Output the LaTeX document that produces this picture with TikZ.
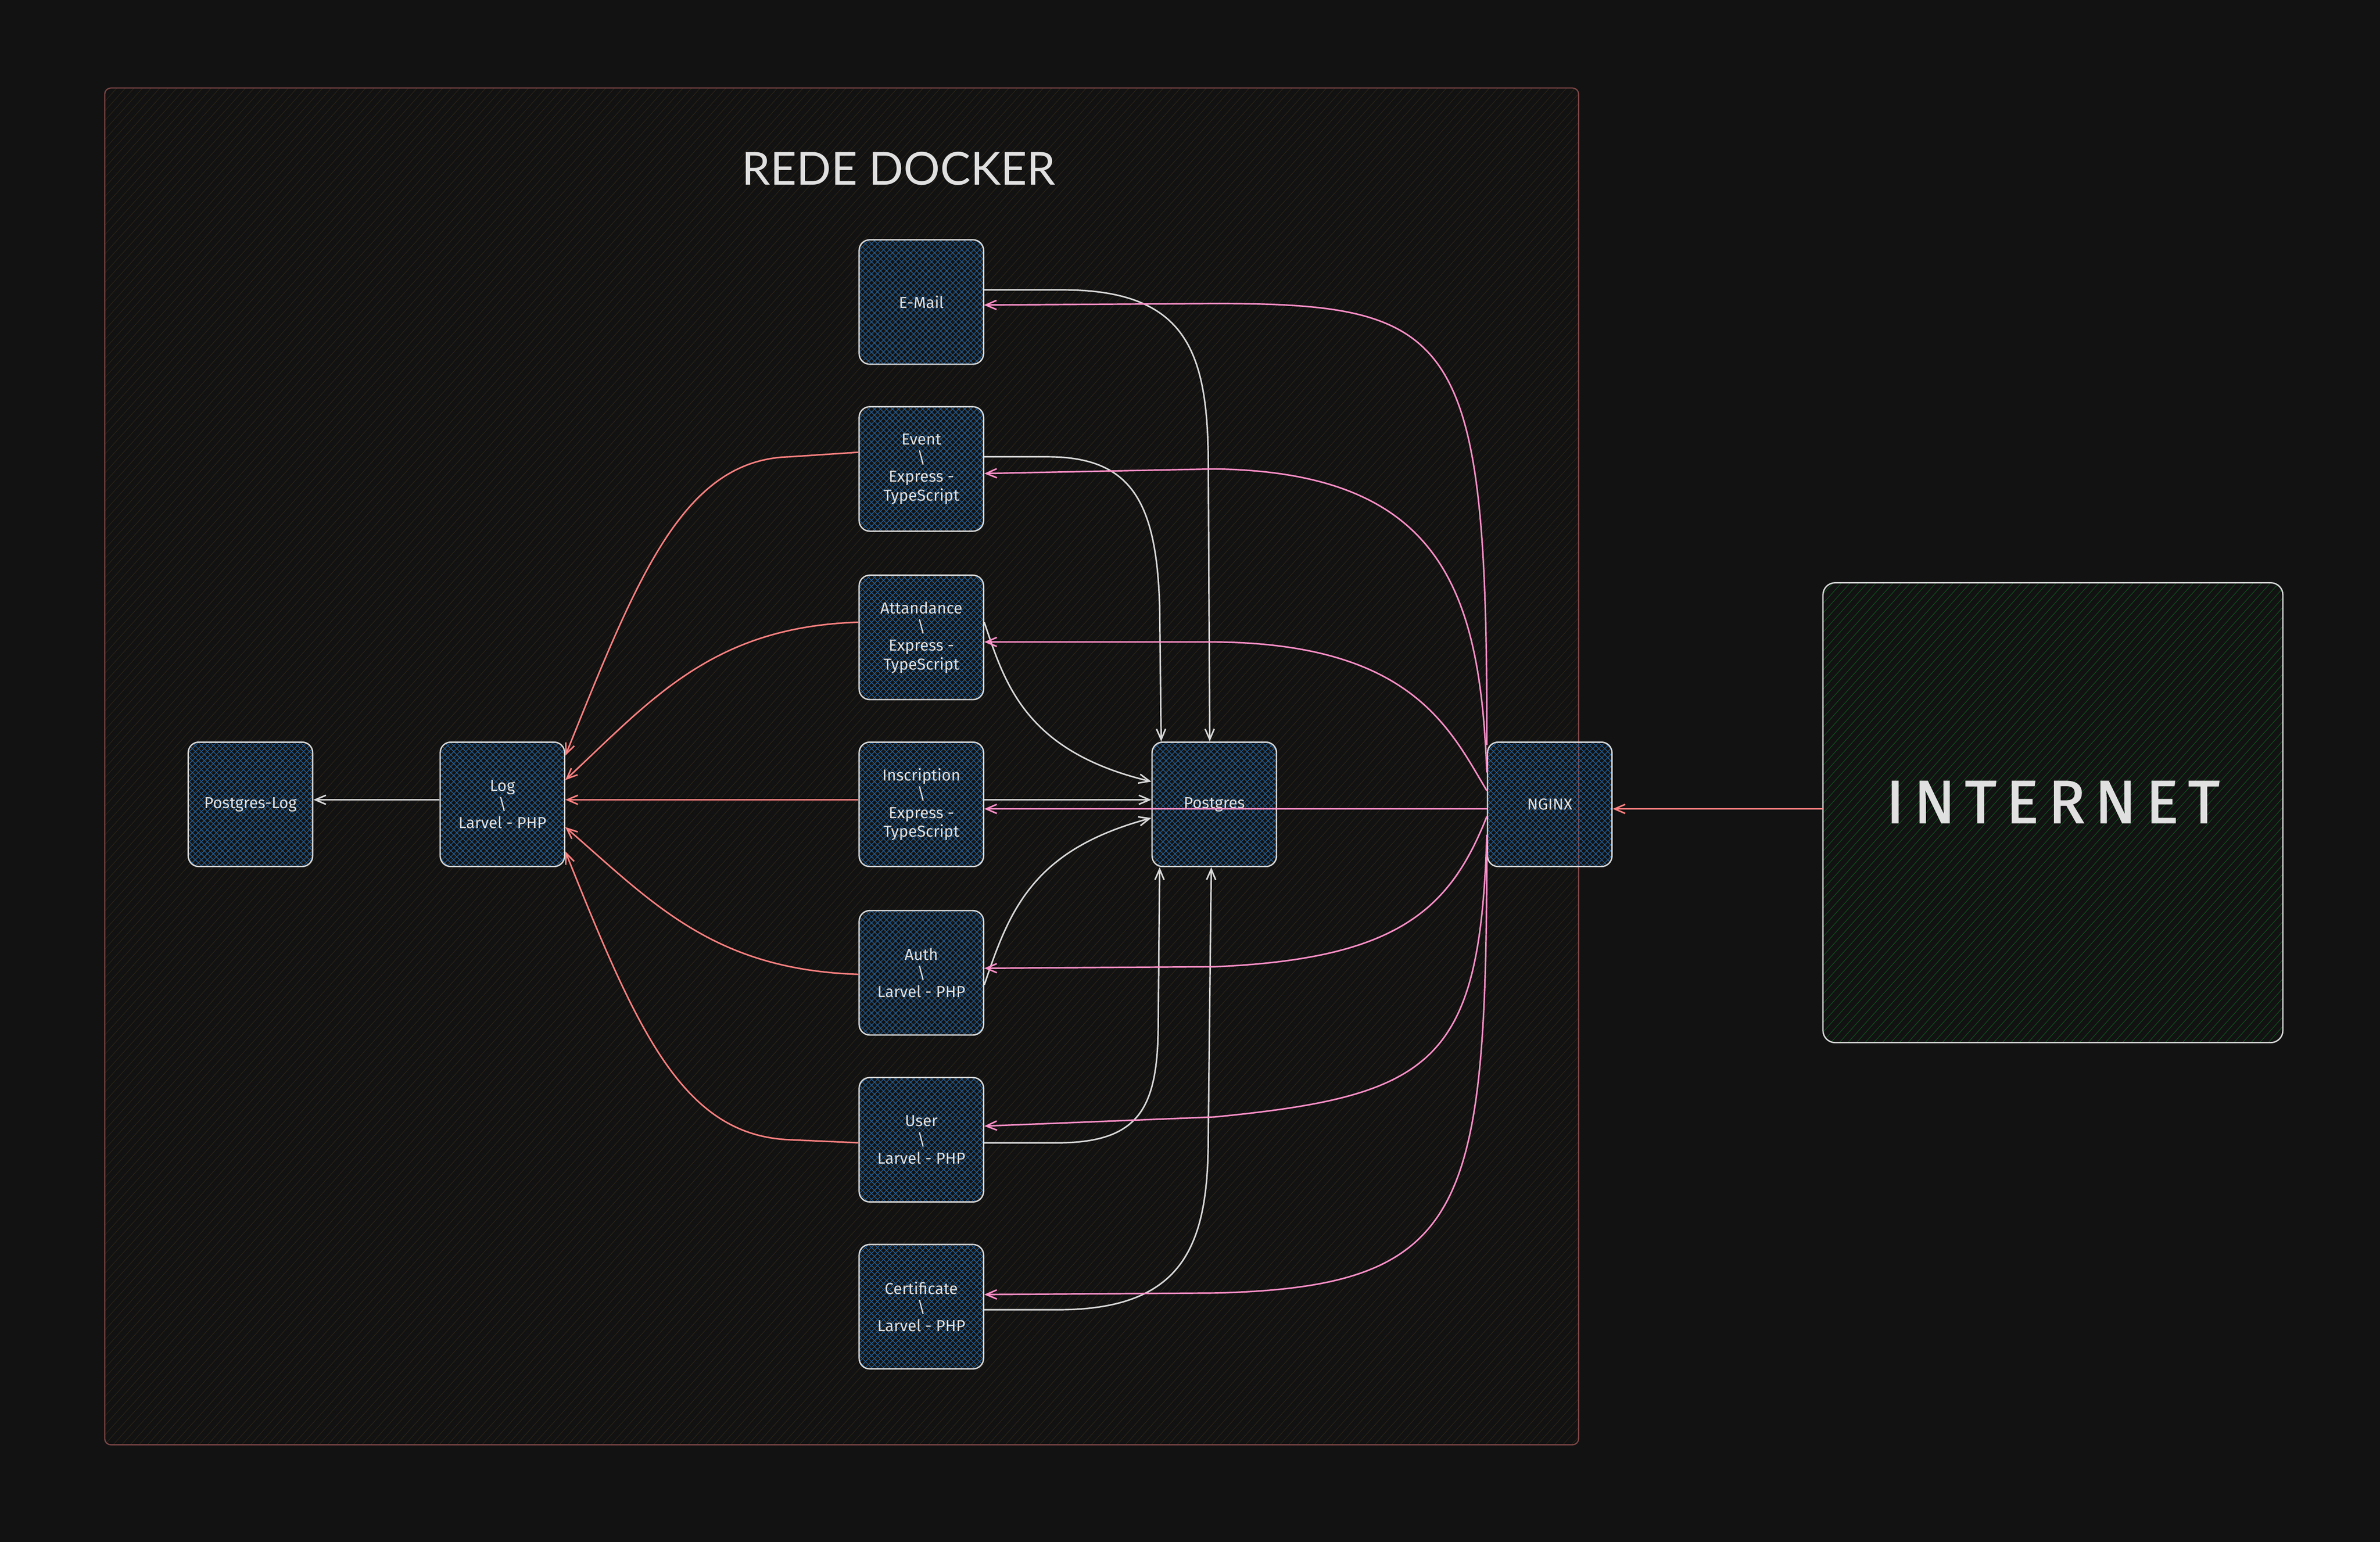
\documentclass[tikz,border=0pt]{standalone}
\usepackage{fontspec}
\setmainfont{Fira Sans}
\newfontfamily\titlefont{Lato}
\newfontfamily\netfont[LetterSpace=16, FakeBold=1.6]{Fira Sans}
\usetikzlibrary{arrows.meta, calc, patterns.meta}
\definecolor{bgdark}{HTML}{121212}
\definecolor{linegray}{HTML}{D8D8D8}
\definecolor{textgray}{HTML}{E0E0E0}
\definecolor{proxypink}{HTML}{FF8FC8}
\definecolor{logred}{HTML}{FF8080}
\definecolor{framered}{HTML}{7C4545}
\definecolor{hatchblue}{HTML}{22609A}
\definecolor{hatchgreen}{HTML}{0F4A1C}
\definecolor{hatchbrown}{HTML}{2A2317}
\tikzset{
    svc/.style={draw=linegray, line width=0.9pt, rounded corners=7pt,
        minimum width=82pt, minimum height=82pt, inner sep=0pt, align=center,
        text=textgray, font=\fontsize{10.5}{12.3}\selectfont,
        preaction={pattern={Lines[angle=45,distance=2.8pt,line width=0.45pt]}, pattern color=hatchblue},
        pattern={Lines[angle=-45,distance=2.8pt,line width=0.45pt]}, pattern color=hatchblue},
    netbox/.style={draw=linegray, line width=0.9pt, rounded corners=8pt,
        minimum width=303pt, minimum height=303pt, inner sep=0pt, text depth=14pt,
        text=textgray, font=\netfont\fontsize{40}{48}\selectfont,
        pattern={Lines[angle=48,distance=4.2pt,line width=0.45pt]}, pattern color=hatchgreen},
    dockernet/.style={draw=framered, line width=0.8pt, rounded corners=4pt,
        pattern={Lines[angle=48,distance=4.2pt,line width=0.4pt]}, pattern color=hatchbrown},
    grayarrow/.style={-{Straight Barb[length=7pt,width=6pt]}, draw=linegray, line width=1pt},
    pinkarrow/.style={-{Straight Barb[length=7pt,width=6pt]}, draw=proxypink, line width=1pt},
    redarrow/.style={-{Straight Barb[length=7pt,width=6pt]}, draw=logred, line width=1pt}
}
\begin{document}
\begin{tikzpicture}[x=1pt, y=-1pt]
    % Canvas
    \fill[bgdark] (0,0) rectangle (1568,1016);
    \useasboundingbox (0,0) rectangle (1568,1016);
    % Docker network
    \draw[dockernet] (69,58) rectangle (1040,952);
    \node[text=textgray, font=\titlefont\fontsize{30}{36}\selectfont] (title) at (592,111) {REDE DOCKER};
    % Services
    \node[svc] (email) at (607,199) {E-Mail};
    \node[svc] (event) at (607,309) {Event\\\textbackslash\\Express -\\TypeScript};
    \node[svc] (attend) at (607,420) {Attandance\\\textbackslash\\Express -\\TypeScript};
    \node[svc] (inscr) at (607,530) {Inscription\\\textbackslash\\Express -\\TypeScript};
    \node[svc] (auth) at (607,641) {Auth\\\textbackslash\\Larvel - PHP};
    \node[svc] (user) at (607,751) {User\\\textbackslash\\Larvel - PHP};
    \node[svc] (cert) at (607,861) {Certificate\\\textbackslash\\Larvel - PHP};
    % Databases, log and proxy
    \node[svc] (postgres) at (800,530) {Postgres};
    \node[svc] (log) at (331,530) {Log\\\textbackslash\\Larvel - PHP};
    \node[svc] (pglog) at (165,530) {Postgres-Log};
    \node[svc] (nginx) at (1021,530) {NGINX};
    % Outside
    \node[netbox] (internet) at (1352.5,535.5) {INTERNET};
    % Services -> Postgres
    \draw[grayarrow] ($(email.east)+(0,-8)$) -- (700,191) .. controls (780,191) and (795,230) .. (796,300) -- ($(postgres.north)+(-3,0)$);
    \draw[grayarrow] ($(event.east)+(0,-8)$) -- (690,301) .. controls (745,301) and (762,330) .. (764,400) -- ($(postgres.north)+(-35,0)$);
    \draw[grayarrow] ($(attend.east)+(0,-10)$) .. controls (662,450) and (675,495) .. ($(postgres.west)+(0,-15)$);
    \draw[grayarrow] ($(inscr.east)+(0,-3)$) -- ($(postgres.west)+(0,-3)$);
    \draw[grayarrow] ($(auth.east)+(0,8)$) .. controls (665,600) and (680,560) .. ($(postgres.west)+(0,9)$);
    \draw[grayarrow] ($(user.east)+(0,2)$) -- (700,753) .. controls (750,752) and (762,730) .. (763,680) -- ($(postgres.south)+(-36,0)$);
    \draw[grayarrow] ($(cert.east)+(0,2)$) -- (700,863) .. controls (780,862) and (796,820) .. (796,750) -- ($(postgres.south)+(-2,0)$);
    % NGINX -> services
    \draw[pinkarrow] ($(nginx.west)+(0,-39)$) .. controls (980,220) and (960,200) .. (800,200) -- ($(email.east)+(0,2)$);
    \draw[pinkarrow] ($(nginx.west)+(0,-21)$) .. controls (975,390) and (950,311) .. (800,309) -- ($(event.east)+(0,3)$);
    \draw[pinkarrow] ($(nginx.west)+(0,-9)$) .. controls (955,480) and (930,424) .. (800,423) -- ($(attend.east)+(0,3)$);
    \draw[pinkarrow] ($(nginx.west)+(0,3)$) -- ($(inscr.east)+(0,3)$);
    \draw[pinkarrow] ($(nginx.west)+(0,8)$) .. controls (955,600) and (920,632) .. (800,637) -- ($(auth.east)+(0,-3)$);
    \draw[pinkarrow] ($(nginx.west)+(0,20)$) .. controls (975,700) and (945,722) .. (800,736) -- ($(user.east)+(0,-9)$);
    \draw[pinkarrow] ($(nginx.west)+(0,32)$) .. controls (979,800) and (965,848) .. (800,852) -- ($(cert.east)+(0,-8)$);
    \draw[redarrow] ($(internet.west)+(0,-2.5)$) -- ($(nginx.east)+(0,3)$);
    % Services -> Log
    \draw[redarrow] ($(event.west)+(0,-11)$) -- (520,301) .. controls (450,303) and (420,380) .. ($(log.east)+(0,-32)$);
    \draw[redarrow] ($(attend.west)+(0,-10)$) .. controls (470,413) and (430,460) .. ($(log.east)+(0,-16)$);
    \draw[redarrow] ($(inscr.west)+(0,-3)$) -- ($(log.east)+(0,-3)$);
    \draw[redarrow] ($(auth.west)+(0,1)$) .. controls (470,639) and (430,595) .. ($(log.east)+(0,15)$);
    \draw[redarrow] ($(user.west)+(0,2)$) -- (520,751) .. controls (450,748) and (420,680) .. ($(log.east)+(0,31)$);
    % Log -> Postgres-Log
    \draw[grayarrow] ($(log.west)+(0,-3)$) -- ($(pglog.east)+(0,-3)$);
\end{tikzpicture}
\end{document}
